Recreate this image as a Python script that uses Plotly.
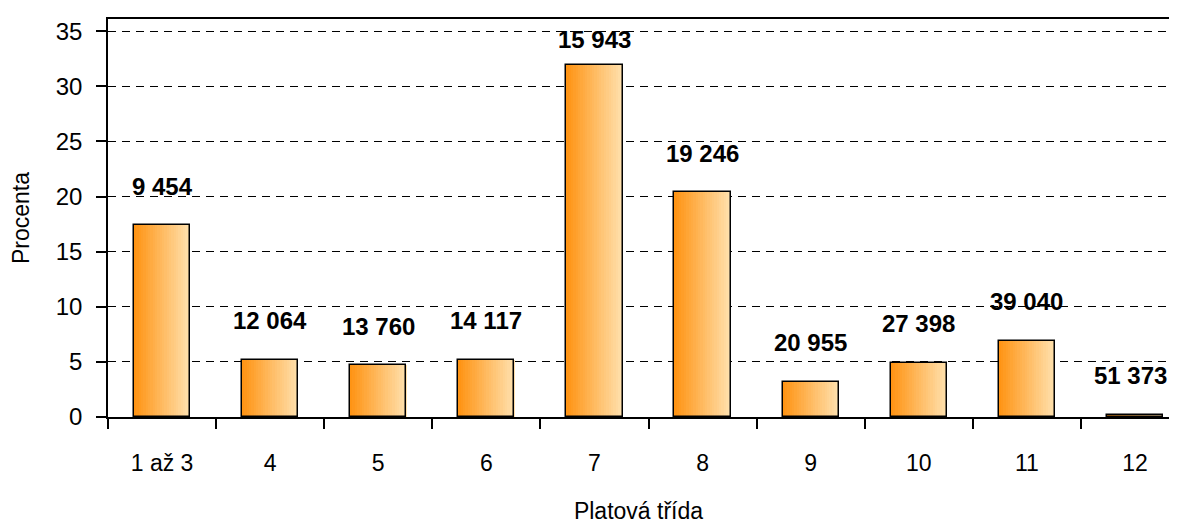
import plotly.graph_objects as go

categories = ["1 až 3", "4", "5", "6", "7", "8", "9", "10", "11", "12"]
percent = [17.4, 5.2, 4.7, 5.2, 31.9, 20.4, 3.2, 4.9, 6.9, 0.2]
salary_labels = ["9 454", "12 064", "13 760", "14 117", "15 943", "19 246",
                 "20 955", "27 398", "39 040", "51 373"]
y_ticks = [0, 5, 10, 15, 20, 25, 30, 35]

FONT = "Liberation Sans, Arial, sans-serif"
BAR_W = 0.52
N_SLICES = 24
c0 = (255, 148, 20)
c1 = (255, 224, 172)

W, H = 1161, 516
M_L, M_R, M_T, M_B = 100, 0, 11, 107
Y_MAX = 36.1
X_RANGE = [-0.5, 9.315]
LABEL_SIZE = 24
px_per_unit = (H - M_T - M_B) / Y_MAX
px_per_cat = (W - M_L - M_R) / (X_RANGE[1] - X_RANGE[0])

fig = go.Figure()
for i in range(N_SLICES):
    t = i / (N_SLICES - 1)
    col = tuple(round(a + (b - a) * t) for a, b in zip(c0, c1))
    fig.add_trace(go.Bar(
        x=categories, y=percent,
        width=BAR_W / N_SLICES + 0.002,
        offset=-BAR_W / 2 + i * BAR_W / N_SLICES,
        marker=dict(color="rgb(%d,%d,%d)" % col, line=dict(width=0)),
        showlegend=False, hoverinfo="skip",
    ))
# outline
fig.add_trace(go.Bar(
    x=categories, y=percent, width=BAR_W, offset=-BAR_W / 2,
    marker=dict(color="rgba(0,0,0,0)", line=dict(color="black", width=1.5)),
    showlegend=False,
))

for idx, (v, lab) in enumerate(zip(percent, salary_labels)):
    dist_top = (Y_MAX - v) * px_per_unit
    yshift = min(39, dist_top - 21)
    # keep label inside the figure's right edge
    half_w = 0.5 * LABEL_SIZE * sum(0.278 if ch == " " else 0.556 for ch in lab)
    center_px = M_L + (idx - X_RANGE[0]) * px_per_cat
    xshift = min(0, (W - 2) - (center_px + half_w))
    fig.add_annotation(x=idx, y=v, xref="x", yref="y", text="<b>%s</b>" % lab,
                       showarrow=False, yshift=yshift, xshift=xshift,
                       font=dict(family=FONT, size=LABEL_SIZE, color="black"))

fig.update_layout(
    width=W, height=H,
    margin=dict(l=M_L, r=M_R, t=M_T, b=M_B, autoexpand=False),
    paper_bgcolor="white", plot_bgcolor="white",
    barmode="overlay", bargap=0,
    font=dict(family=FONT, size=24, color="black"),
)
fig.update_xaxes(
    range=X_RANGE, tickson="boundaries", ticks="outside", ticklen=10,
    tickwidth=1.5, tickcolor="black", showline=True, linecolor="black",
    linewidth=1.5, mirror=True, showgrid=False, ticklabelstandoff=25,
    tickfont=dict(size=23), automargin=False,
    title=dict(text="Platová třída", font=dict(size=23), standoff=35),
)
fig.update_yaxes(
    range=[0, Y_MAX], tickvals=y_ticks, ticks="outside", ticklen=10,
    tickwidth=1.5, tickcolor="black", showline=True, linecolor="black",
    linewidth=1.5, showgrid=True, gridcolor="black", gridwidth=1,
    griddash="8px,6px", zeroline=False, ticklabelstandoff=9,
    tickfont=dict(size=24), automargin=False,
    title=dict(text="Procenta", font=dict(size=23), standoff=20),
)

fig.write_html("out.html")
